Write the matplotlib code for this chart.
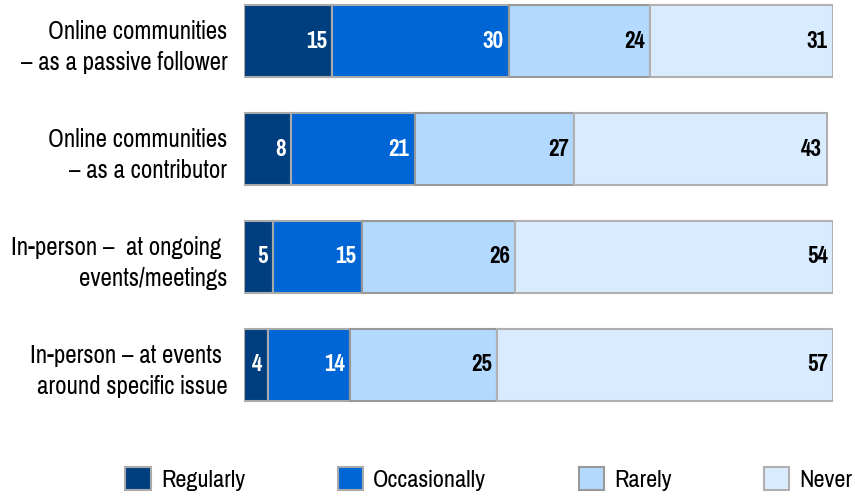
import matplotlib
matplotlib.use("Agg")
import matplotlib.pyplot as plt
from matplotlib.patches import Patch
import numpy as np

plt.rcParams['font.family'] = ['Pragati Narrow', 'Liberation Sans', 'DejaVu Sans']

categories = [
    "Online communities\n– as a passive follower",
    "Online communities\n– as a contributor",
    "In-person –  at ongoing \nevents/meetings",
    "In-person – at events \naround specific issue",
]
series_names = ["Regularly", "Occasionally", "Rarely", "Never"]
regularly = [15, 8, 5, 4]
occasionally = [30, 21, 15, 14]
rarely = [24, 27, 26, 25]
never = [31, 43, 54, 57]

colors = ["#003F7F", "#0066D6", "#B3D9FF", "#D9ECFF"]
edges = ["#AAAAAA", "#AAAAAA", "#999999", "#B0B0B0"]
text_colors = ["white", "white", "black", "black"]

fig = plt.figure(figsize=(8.55, 4.98), dpi=100)
ax = fig.add_axes([0.2854, 0.1767, 0.6889, 0.8233])

y = np.arange(len(categories))
left = np.zeros(len(categories))
for vals, name, c, ec, tc in zip([regularly, occasionally, rarely, never],
                                 series_names, colors, edges, text_colors):
    vals = np.array(vals, dtype=float)
    ax.barh(y, vals, left=left, height=0.67, color=c, edgecolor=ec,
            linewidth=1.5, label=name)
    for yi, l, v in zip(y, left, vals):
        ax.text(l + v - 0.9, yi, f"{int(v)}", ha="right", va="center",
                color=tc, fontsize=18, fontweight="bold")
    left += vals

ax.set_xlim(0, 100)
ax.set_ylim(3.417, -0.38)
ax.set_yticks(y)
ax.set_yticklabels(categories, fontsize=19.5, linespacing=1.4)
ax.tick_params(axis="y", length=0, pad=12)
ax.set_xticks([])
for s in ax.spines.values():
    s.set_visible(False)

handles = [Patch(facecolor=c, edgecolor=ec, linewidth=1.5)
           for c, ec in zip(colors, edges)]
fig.legend(handles, series_names, loc="center", bbox_to_anchor=(0.572, 0.038),
           ncol=4, frameon=False, fontsize=19, handlelength=0.95,
           handleheight=1.0, handletextpad=0.4, columnspacing=3.5)

fig.savefig("out.png", dpi=100)
